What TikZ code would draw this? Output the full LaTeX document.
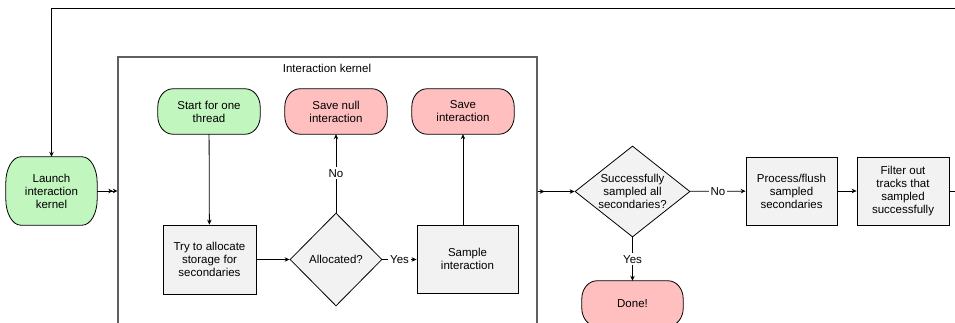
\documentclass[tikz,border=0pt]{standalone}
\usepackage{fontspec}
\setmainfont{Liberation Sans}
\usetikzlibrary{shapes.geometric,arrows.meta,calc,backgrounds}

\definecolor{startgreen}{RGB}{194,246,191}
\definecolor{endred}{RGB}{255,191,191}
\definecolor{stepgray}{RGB}{242,242,242}
\definecolor{framegray}{RGB}{95,95,95}

\tikzset{
  x=1pt, y=1pt,
  every node/.style={font=\fontsize{11.5}{13}\selectfont, align=center, inner sep=0pt},
  procbox/.style={draw, line width=0.8pt, fill=stepgray, minimum width=#1},
  termnode/.style={minimum width=#1},
  decision/.style={diamond, draw, line width=0.8pt, fill=stepgray},
  flow/.style={line width=0.8pt, -{Stealth[length=5pt,width=4.5pt]}},
  dblflow/.style={line width=0.8pt, -{Stealth[length=4.5pt,width=4.5pt]Stealth[length=4.5pt,width=4.5pt]}},
  plain/.style={line width=0.8pt},
  edgelabel/.style={fill=white, inner sep=2pt},
}

% terminator outline with elliptical corners, drawn behind node #1
\newcommand{\terminal}[4]{%
  \draw[line width=0.8pt, fill=#2]
    ($(#1.north west)+(#3,0)$) -- ($(#1.north east)+(-#3,0)$)
    arc[start angle=90, end angle=0, x radius=#3, y radius=#4]
    -- ($(#1.south east)+(0,#4)$)
    arc[start angle=0, end angle=-90, x radius=#3, y radius=#4]
    -- ($(#1.south west)+(#3,0)$)
    arc[start angle=-90, end angle=-180, x radius=#3, y radius=#4]
    -- ($(#1.north west)+(0,-#4)$)
    arc[start angle=180, end angle=90, x radius=#3, y radius=#4] -- cycle;}

\begin{document}
\begin{tikzpicture}
\useasboundingbox (0,0) rectangle (955,-323);
\clip (0,0) rectangle (955,-323);

% kernel frame
\node[draw=framegray, line width=1.3pt, minimum width=419, minimum height=290] (kernel) at (327.5,-202) {};
\node (kerneltitle) at (327,-68) {Interaction kernel};

% terminators
\node[termnode=91, minimum height=68] (launch) at (51.5,-191) {Launch\\interaction\\kernel};
\node[termnode=102, minimum height=45] (start) at (209,-111.5) {Start for one\\thread};
\node[termnode=102, minimum height=45] (savenull) at (336,-111.5) {Save null\\interaction};
\node[termnode=102, minimum height=45] (save) at (463,-111.5) {Save\\interaction};
\node[termnode=101, minimum height=45] (done) at (632.5,-303.5) {Done!};

% process steps
\node[procbox=93, minimum height=69] (try) at (209.5,-259.5) {Try to allocate\\storage for\\secondaries};
\node[procbox=101, minimum height=68] (sample) at (467.5,-259) {Sample\\interaction};
\node[procbox=91, minimum height=68] (process) at (791.5,-191) {Process/flush\\sampled\\secondaries};
\node[procbox=92, minimum height=68] (filter) at (903,-191) {Filter out\\tracks that\\sampled\\successfully};

% decisions
\node[decision, minimum width=92, minimum height=93] (alloc) at (336,-259.5) {Allocated?};
\node[decision, minimum width=115, minimum height=91,
      label={center:Successfully\\sampled all\\secondaries?}] (succ) at (632.5,-191.5) {};

\begin{scope}[on background layer]
  \terminal{launch}{startgreen}{15}{26}
  \terminal{start}{startgreen}{15}{18}
  \terminal{savenull}{endred}{15}{18}
  \terminal{save}{endred}{15}{18}
  \terminal{done}{endred}{15}{18}
\end{scope}

% connectors inside the kernel
\draw[flow] (start) -- (try);
\draw[flow] (try) -- (alloc);
\draw[flow] (alloc) -- node[edgelabel] {No} (savenull);
\draw[flow] (alloc) -- node[edgelabel] {Yes} (sample.west |- alloc);
\draw[flow] (sample.north -| save) -- (save);

% connectors outside the kernel
\draw[dblflow] (launch.east) -- (launch.east -| kernel.west);
\draw[flow] (kernel.east |- succ) -- ++(7,0);
\draw[flow] (kernel.east |- succ) -- (succ.west);
\draw[flow] (succ) -- node[edgelabel] {No} (process);
\draw[flow] (succ) -- node[edgelabel] {Yes} (done);
\draw[flow] (process) -- (filter);

% loop back to the launch step
\coordinate (loopright) at (970,-191);
\coordinate (looptop) at (970,-8.5);
\draw[flow] (filter.east) -- (loopright) -- (looptop) -- (looptop -| launch) -- (launch.north);
\end{tikzpicture}
\end{document}
